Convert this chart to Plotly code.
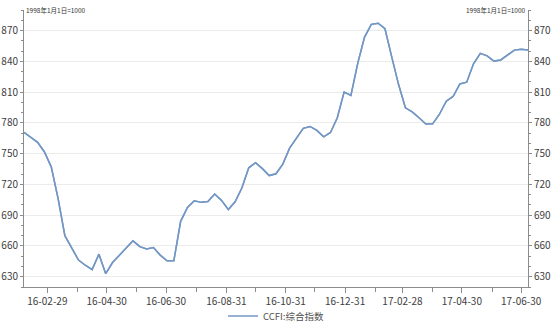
import pandas as pd
import plotly.graph_objects as go

# Weekly CCFI composite index (1998-01-01 = 1000)
start_date = "2016-02-05"
ccfi_values = [
    770.8, 766.1, 761.0, 751.6, 737.1, 706.4, 670.0, 658.2, 646.2, 641.2,
    637.0, 652.0, 633.0, 643.8, 651.0, 658.6, 665.0, 659.3, 657.0, 658.4,
    651.1, 645.6, 645.6, 684.0, 697.6, 704.0, 702.5, 703.4, 710.6, 704.4,
    695.5, 703.1, 716.7, 736.2, 741.2, 735.4, 728.6, 730.4, 739.8, 755.3,
    764.7, 774.7, 776.5, 772.6, 766.3, 770.6, 785.0, 810.1, 806.8, 838.0,
    863.6, 876.0, 877.1, 871.7, 844.0, 817.3, 794.7, 790.7, 785.0, 778.9,
    779.0, 788.4, 801.1, 805.7, 817.9, 819.6, 837.5, 847.7, 845.3, 840.2,
    841.3, 846.0, 850.9, 851.7, 851.0,
]
dates = pd.date_range(start_date, periods=len(ccfi_values), freq="7D")

series_name = "CCFI:综合指数"
base_note = "1998年1月1日=1000"

major_tick_dates = ["2016-02-29", "2016-04-30", "2016-06-30", "2016-08-31",
                    "2016-10-31", "2016-12-31", "2017-02-28", "2017-04-30",
                    "2017-06-30"]
major_tick_labels = ["16-02-29", "16-04-30", "16-06-30", "16-08-31",
                     "16-10-31", "16-12-31", "17-02-28", "17-04-30",
                     "17-06-30"]
minor_tick_dates = ["2016-03-31", "2016-05-31", "2016-07-31", "2016-09-30",
                    "2016-11-30", "2017-01-31", "2017-03-31", "2017-05-31"]
y_ticks = [630, 660, 690, 720, 750, 780, 810, 840, 870]
y_range = [620, 890]

FONT = "Noto Sans CJK SC"
AXIS_COLOR = "#8c8c8c"
TEXT_COLOR = "#404040"
LINE_COLOR = "#7397c4"

fig = go.Figure()
fig.add_trace(go.Scatter(
    x=dates, y=ccfi_values, mode="lines", name=series_name,
    line=dict(color=LINE_COLOR, width=1.5),
))
fig.add_trace(go.Scatter(
    x=dates, y=ccfi_values, mode="lines", yaxis="y2", showlegend=False,
    hoverinfo="skip", line=dict(color=LINE_COLOR, width=1.5),
))

yaxis_common = dict(
    range=y_range, tickvals=y_ticks, ticks="outside", ticklen=3,
    tickcolor=AXIS_COLOR, showline=True, linecolor=AXIS_COLOR, linewidth=1,
    tickfont=dict(family=FONT, size=10, color=TEXT_COLOR),
    zeroline=False, automargin=False,
    minor=dict(dtick=10, tick0=620, ticks="outside", ticklen=2,
               tickcolor=AXIS_COLOR, showgrid=False),
)

fig.update_layout(
    width=554, height=323,
    margin=dict(l=24, r=26, t=10, b=36, autoexpand=False),
    paper_bgcolor="white", plot_bgcolor="white",
    font=dict(family=FONT, size=10, color=TEXT_COLOR),
    xaxis=dict(
        type="date",
        range=[dates[0], dates[-1]],
        tickvals=major_tick_dates, ticktext=major_tick_labels,
        ticks="outside", ticklen=5, tickcolor=AXIS_COLOR,
        showline=True, linecolor=AXIS_COLOR, linewidth=1,
        showgrid=False, zeroline=False, automargin=False,
        tickfont=dict(family=FONT, size=10, color=TEXT_COLOR),
        minor=dict(tickvals=minor_tick_dates, ticks="outside", ticklen=4,
                   tickcolor=AXIS_COLOR, showgrid=False),
    ),
    yaxis=dict(**yaxis_common, side="left", showgrid=True,
               gridcolor="#ebebeb", gridwidth=1),
    yaxis2=dict(**yaxis_common, side="right", overlaying="y", showgrid=False),
    showlegend=True,
    legend=dict(orientation="h", x=0.5, xanchor="center", y=-0.105,
                yanchor="middle", font=dict(family=FONT, size=9.5, color="#505050"),
                itemwidth=30, bgcolor="rgba(0,0,0,0)"),
    annotations=[
        dict(text=base_note, xref="paper", yref="paper", x=0, y=1,
             xanchor="left", yanchor="middle", showarrow=False,
             font=dict(family=FONT, size=6.5, color="#333333")),
        dict(text=base_note, xref="paper", yref="paper", x=1, y=1,
             xanchor="right", yanchor="middle", showarrow=False,
             font=dict(family=FONT, size=6.5, color="#333333")),
    ],
)

fig.write_html("out.html")
